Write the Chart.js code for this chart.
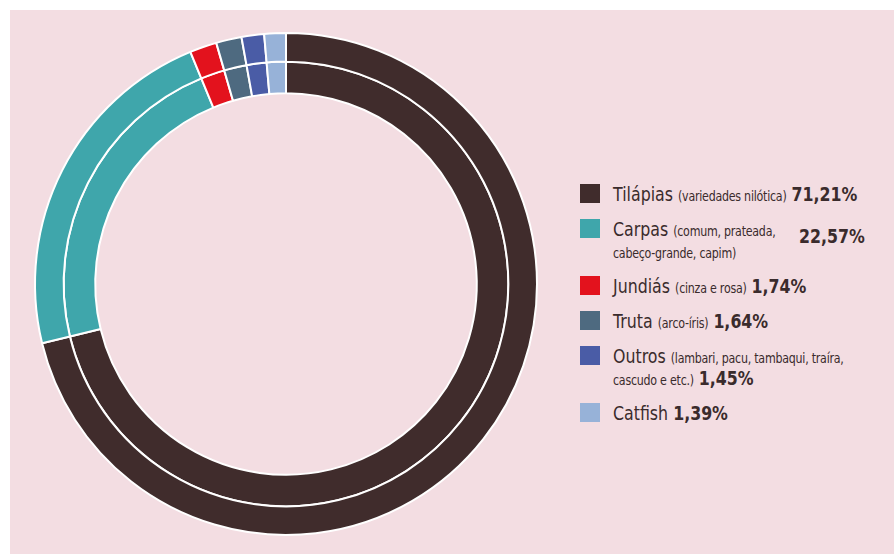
<!DOCTYPE html>
<html>
<head>
<meta charset="utf-8">
<script src="https://cdn.jsdelivr.net/npm/chart.js@4.4.1/dist/chart.umd.min.js"></script>
<style>
  html, body { margin: 0; padding: 0; background: #ffffff; overflow: hidden; }
  #frame { position: absolute; left: 10px; top: 10px; width: 884px; height: 544px; background: #f3dde2; }
  #chart { position: absolute; left: 30px; top: 30px; }
  #legend { position: absolute; left: 580px; top: 183px; width: 310px; font-family: "DejaVu Sans", sans-serif; color: #3a2b2c; }
  .row { position: relative; display: flex; align-items: flex-start; margin-bottom: 13px; }
  .box { width: 20px; height: 19px; margin-top: 1px; margin-right: 13px; flex: none; }
  .txt { width: 340px; font-size: 20px; line-height: 22px; transform: scaleX(0.79); transform-origin: 0 0; flex: none; }
  .note { font-size: 14px; letter-spacing: -0.3px; line-height: 1; }
  .val { font-weight: bold; font-size: 20px; line-height: 1; }
  .aside { position: absolute; left: 219px; top: 7px; line-height: 22px; transform: scaleX(0.79); transform-origin: 0 0; }
</style>
</head>
<body>
<div id="frame"></div>
<canvas id="chart" width="512" height="508"></canvas>
<div id="legend"></div>
<script>
// Espécies e participação (%)
var categories = ["Tilápias", "Carpas", "Jundiás", "Truta", "Outros", "Catfish"];
var notes = ["(variedades nilótica)", "(comum, prateada, cabeço-grande, capim)", "(cinza e rosa)", "(arco-íris)", "(lambari, pacu, tambaqui, traíra, cascudo e etc.)", ""];
var shares = [71.21, 22.57, 1.74, 1.64, 1.45, 1.39];
var colors = ["#402c2c", "#3fa6ab", "#e3121d", "#4e6a80", "#4a5ca6", "#97b2d8"];

var ctx = document.getElementById("chart").getContext("2d");

var ring = function (weight) {
  return {
    data: shares,
    backgroundColor: colors,
    borderColor: "#ffffff",
    borderWidth: 2,
    weight: weight,
  };
};

new Chart(ctx, {
  type: "doughnut",
  data: {
    labels: categories,
    datasets: [ring(29), ring(32)], // anel externo e interno
  },
  options: {
    responsive: false,
    animation: false,
    radius: 251,
    cutout: "76%",
    plugins: {
      legend: { display: false },
      tooltip: { enabled: false },
    },
  },
});

// Legenda em HTML (texto com pesos diferentes)
var legend = document.getElementById("legend");
var fmt = function (v) { return v.toFixed(2).replace(".", ",") + "%"; };
categories.forEach(function (name, i) {
  var row = document.createElement("div");
  row.className = "row";
  var box = document.createElement("div");
  box.className = "box";
  box.style.background = colors[i];
  row.appendChild(box);
  var txt = document.createElement("div");
  txt.className = "txt";
  txt.innerHTML = name + (notes[i] ? ' <span class="note">' + notes[i] + "</span>" : "");
  row.appendChild(txt);
  if (i === 1) {
    // Carpas: percentual ao lado do bloco de texto
    txt.style.width = "250px";
    var aside = document.createElement("div");
    aside.className = "val aside";
    aside.textContent = fmt(shares[i]);
    row.appendChild(aside);
  } else {
    txt.innerHTML += ' <span class="val">' + fmt(shares[i]) + "</span>";
  }
  legend.appendChild(row);
});
</script>
</body>
</html>
